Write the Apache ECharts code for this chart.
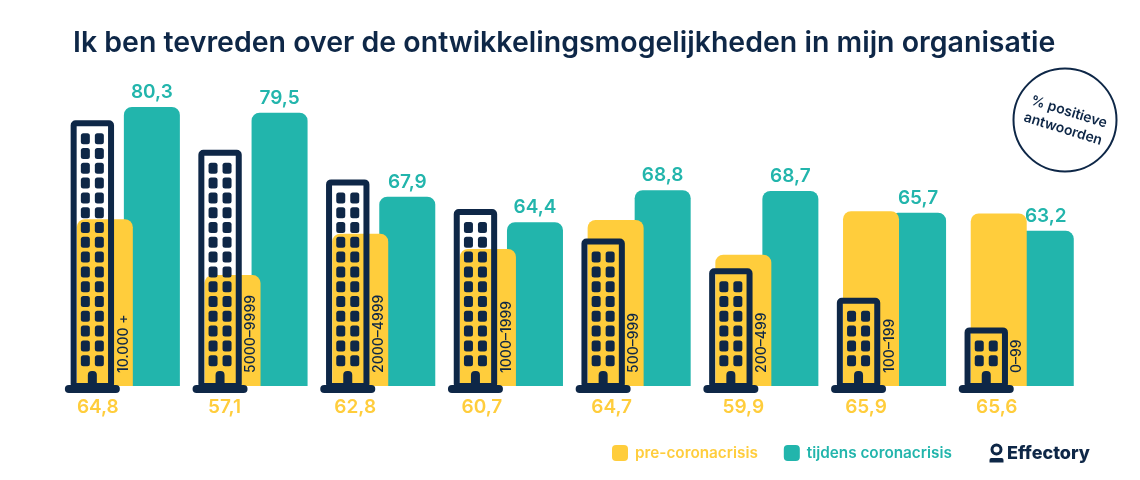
<!DOCTYPE html>
<html lang="nl" style="height: 100%">

<head>
  <meta charset="UTF-8" />
  <title>Ontwikkelingsmogelijkheden</title>
  <script src="https://cdn.jsdelivr.net/npm/echarts@6/dist/echarts.min.js"></script>
</head>

<body style="height: 100%; margin: 0; background: #fff">
  <div id="container" style="width: 1140px; height: 480px"></div>
  <script type="text/javascript">
    // data
    var sizes = ["10.000 +", "5000–9999", "2000–4999", "1000–1999", "500–999", "200–499", "100–199", "0–99"];
    var preCorona = [64.8, 57.1, 62.8, 60.7, 64.7, 59.9, 65.9, 65.6];
    var duringCorona = [80.3, 79.5, 67.9, 64.4, 68.8, 68.7, 65.7, 63.2];
    var floors = [16, 14, 12, 10, 8, 6, 4, 2];

    var navy = "#0e2747";
    var yellow = "#ffcd3c";
    var teal = "#22b5ac";
    var font = "Inter";
    var axisMin = 41.8;

    // the yellow labels sit a little left of their bar, not by the same amount everywhere
    var preLabelShift = [-7, -8, -5, -6, -4, 0, -5, -2];

    function comma(p) {
      return String(p.value).replace(".", ",");
    }

    // building icon on top of the bars, taller for bigger organisations
    function renderBuilding(params, api) {
      var i = api.value(0);
      var rows = api.value(1);
      var p = api.coord([i, axisMin]);
      var cx = p[0] - 36;
      var base = p[1];
      var top = base - (rows * 14.8 + 29);
      var kids = [];

      kids.push({
        type: "rect",
        shape: { x: cx - 18.7, y: top + 3, width: 37.4, height: base - top - 3, r: 2 },
        style: { fill: "none", stroke: navy, lineWidth: 6 }
      });
      for (var r = 0; r < rows; r++) {
        var wy = base - 25.3 - r * 14.8;
        [-7, 7].forEach(function (dx) {
          kids.push({
            type: "rect",
            shape: { x: cx + dx - 4.5, y: wy - 5.5, width: 9, height: 11, r: 2.5 },
            style: { fill: navy }
          });
        });
      }
      kids.push({
        type: "rect",
        shape: { x: cx - 4.5, y: base - 15, width: 9, height: 16, r: [4, 4, 0, 0] },
        style: { fill: navy }
      });
      kids.push({
        type: "rect",
        shape: { x: cx - 27.5, y: base - 1, width: 55, height: 8, r: 4 },
        style: { fill: navy }
      });
      kids.push({
        type: "text",
        x: cx + 31,
        y: base - 13,
        rotation: Math.PI / 2,
        style: {
          text: sizes[i], fill: navy, font: "500 14px " + font,
          align: "left", verticalAlign: "middle"
        }
      });
      return { type: "group", children: kids };
    }

    var myChart = echarts.init(document.getElementById("container"), null, { renderer: "canvas" });

    var option = {
      animation: false,
      title: {
        text: "Ik ben tevreden over de ontwikkelingsmogelijkheden in mijn organisatie",
        left: 68,
        top: 24,
        textStyle: { color: navy, fontFamily: font, fontWeight: 600, fontSize: 28.5 }
      },
      legend: {
        left: 612,
        top: 445,
        padding: 0,
        itemWidth: 16,
        itemHeight: 16,
        itemGap: 26,
        icon: "roundRect",
        data: ["pre-coronacrisis", "tijdens coronacrisis"],
        selectedMode: false,
        textStyle: { color: "inherit", fontFamily: font, fontWeight: 600, fontSize: 15.3, padding: [0, 0, 0, 2] }
      },
      grid: { left: 64.5, top: 86, width: 1021.6, height: 300 },
      xAxis: { type: "category", data: sizes, show: false },
      yAxis: { type: "value", min: axisMin, max: 83.18, show: false },
      series: [
        {
          name: "pre-coronacrisis",
          type: "bar",
          z: 3,
          barWidth: 56,
          barGap: "-16%",
          itemStyle: { color: yellow, borderRadius: [8, 8, 0, 0] },
          data: preCorona.map(function (v, i) {
            return { value: v, label: { offset: [preLabelShift[i], 0] } };
          }),
          label: {
            show: true, position: "bottom", distance: 12, formatter: comma,
            color: yellow, fontFamily: font, fontWeight: 600, fontSize: 19
          }
        },
        {
          name: "tijdens coronacrisis",
          type: "bar",
          z: 2,
          barWidth: 56,
          itemStyle: { color: teal, borderRadius: [8, 8, 0, 0] },
          data: duringCorona,
          label: {
            show: true, position: "top", distance: 5, formatter: comma,
            color: teal, fontFamily: font, fontWeight: 600, fontSize: 19
          }
        },
        {
          type: "custom",
          z: 4,
          clip: false,
          silent: true,
          renderItem: renderBuilding,
          encode: { x: 0, y: 1 },
          data: floors.map(function (n, i) { return [i, n]; })
        }
      ],
      graphic: [
        // stamp top right
        {
          type: "circle", z: 5, shape: { cx: 1065, cy: 120, r: 51.5 },
          style: { fill: "#fff", stroke: navy, lineWidth: 2 }
        },
        {
          type: "text", z: 6, x: 1069, y: 112, rotation: -0.3,
          style: { text: "% positieve", fill: navy, font: "600 14px " + font, align: "center", verticalAlign: "middle" }
        },
        {
          type: "text", z: 6, x: 1063, y: 129, rotation: -0.3,
          style: { text: "antwoorden", fill: navy, font: "600 14px " + font, align: "center", verticalAlign: "middle" }
        },
        // Effectory logo
        {
          type: "circle", z: 5, shape: { cx: 996.5, cy: 449.5, r: 4.5 },
          style: { fill: "none", stroke: navy, lineWidth: 3 }
        },
        {
          type: "rect", z: 5, shape: { x: 989.5, y: 458, width: 14, height: 4.5, r: [2, 2, 0, 0] },
          style: { fill: navy }
        },
        {
          type: "text", z: 5, x: 1007, y: 454,
          style: { text: "Effectory", fill: navy, font: "800 18px " + font, align: "left", verticalAlign: "middle" }
        }
      ]
    };

    myChart.setOption(option);
    window.addEventListener("resize", myChart.resize);
  </script>
</body>

</html>
